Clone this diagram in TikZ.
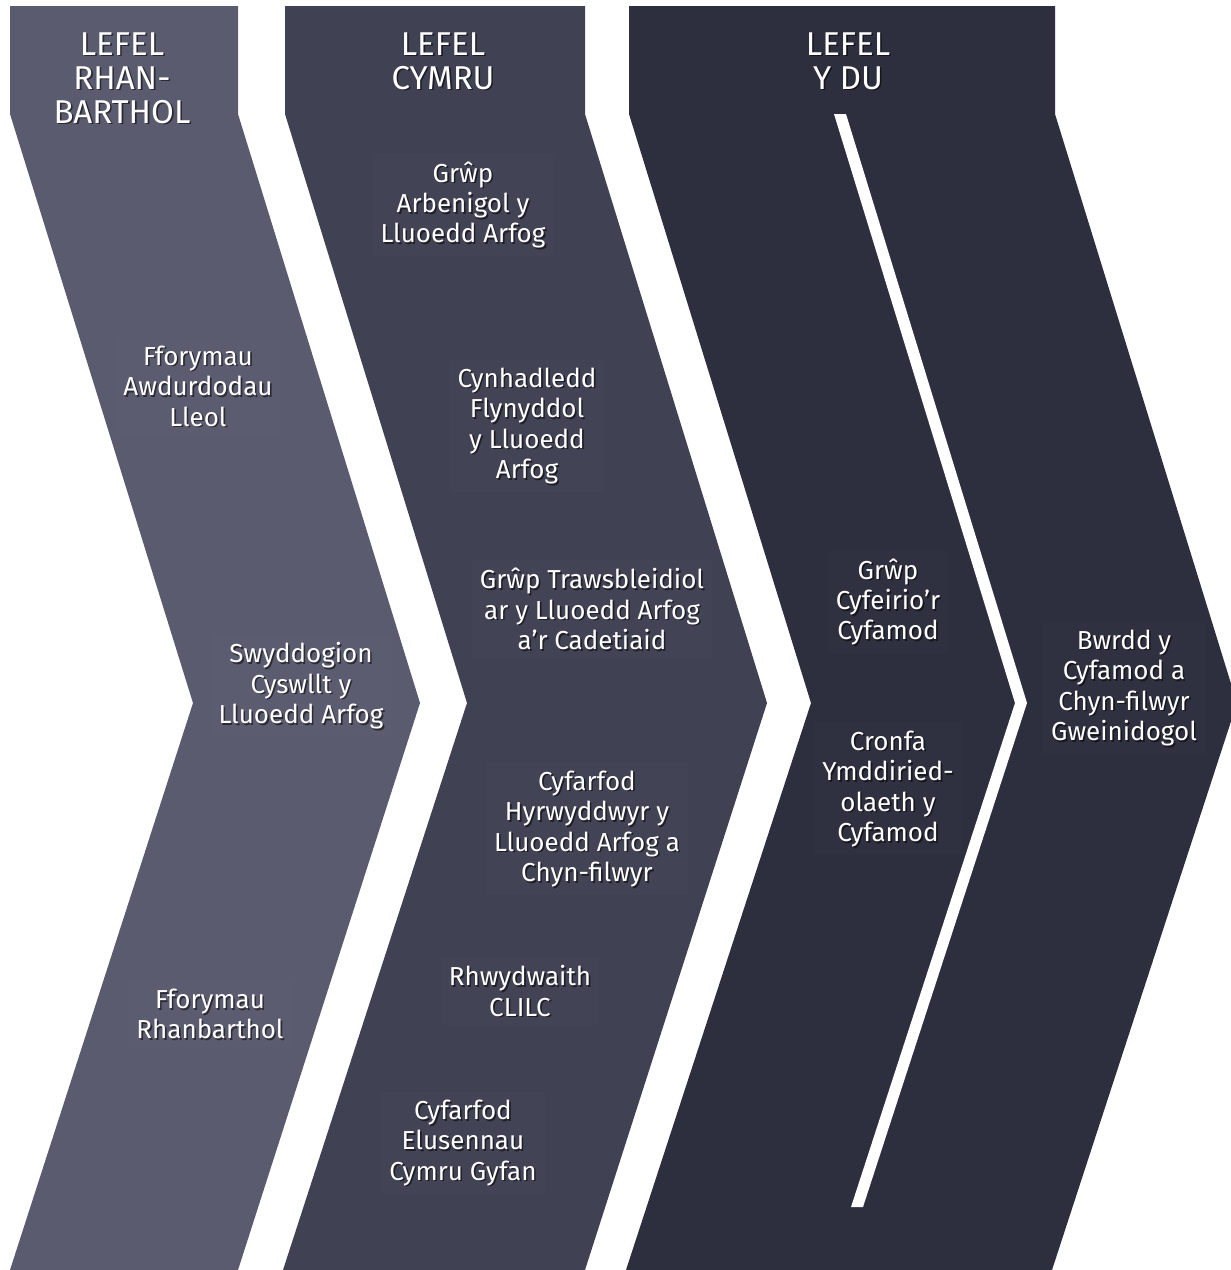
\documentclass[tikz,border=0pt]{standalone}
\usepackage{fontspec}
\setmainfont{Fira Sans}
\usepackage{xcolor}
\usepackage{tikz}
\usetikzlibrary{positioning}

\definecolor{levelone}{RGB}{90,91,110}
\definecolor{leveltwo}{RGB}{64,65,82}
\definecolor{levelthree}{RGB}{45,47,62}

\tikzset{
  txt/.style={align=center, text=white, fill=white, fill opacity=0.012, text opacity=1,
    inner sep=4pt, font=\fontsize{13pt}{15.2pt}\selectfont},
  txtshade/.style={align=center, text=black, text opacity=0.55, inner sep=4pt,
    font=\fontsize{13pt}{15.2pt}\selectfont},
  head/.style={txt, fill opacity=0, font=\fontsize{16.5pt}{17pt}\selectfont},
  headshade/.style={txtshade, font=\fontsize{16.5pt}{17pt}\selectfont}
}

% text with a small drop shadow
\newcommand{\shadedtext}[4]{%
  \node[#1shade, xshift=0.8pt, yshift=-0.8pt] at (#2) {#4};
  \node[#1] (#3) at (#2) {#4};}

\begin{document}
\begin{tikzpicture}[x=0.5pt,y=-0.5pt]
\clip (0,0) rectangle (1231,1270);
\fill[white] (0,0) rectangle (1231,1270);
% the three chevrons
\fill[levelone] (10,6) -- (238,6) -- (238,114) -- (420,703) -- (238,1270)
  -- (10,1270) -- (193,703) -- (10,114) -- cycle;
\fill[leveltwo] (285,6) -- (585,6) -- (585,114) -- (767,703) -- (585,1270)
  -- (283,1270) -- (467,703) -- (285,114) -- cycle;
\fill[levelthree] (629,6) -- (1055,6) -- (1055,114) -- (1237,703) -- (1052,1270)
  -- (626,1270) -- (811,703) -- (629,114) -- cycle;
% white divider inside the UK level
\fill[white] (834,114) -- (846,114) -- (1027,703) -- (863,1207)
  -- (851,1207) -- (1015,703) -- cycle;

% headers
\shadedtext{head}{122,78}{hregion}{LEFEL\\RHAN-\\BARTHOL}
\shadedtext{head}{443,61}{hwales}{LEFEL\\CYMRU}
\shadedtext{head}{848,61}{huk}{LEFEL\\Y DU}

% regional level
\shadedtext{txt}{198,386}{lafora}{Fforymau\\Awdurdodau\\Lleol}
\shadedtext{txt}{301,686}{liaison}{Swyddogion\\Cyswllt y\\Lluoedd Arfog}
\shadedtext{txt}{210,1014}{regfora}{Fforymau\\Rhanbarthol}

% Wales level
\shadedtext{txt}{463,205}{expert}{Grŵp\\Arbenigol y\\Lluoedd Arfog}
\shadedtext{txt}{527,426}{conf}{Cynhadledd\\Flynyddol\\y Lluoedd\\Arfog}
\shadedtext{txt}{592,609}{crossparty}{Grŵp Trawsbleidiol\\ar y Lluoedd Arfog\\a’r Cadetiaid}
\shadedtext{txt}{587,829}{champions}{Cyfarfod\\Hyrwyddwyr y\\Lluoedd Arfog a\\Chyn-filwyr}
\shadedtext{txt}{520,991}{network}{Rhwydwaith\\CLILC}
\shadedtext{txt}{463,1143}{charities}{Cyfarfod\\Elusennau\\Cymru Gyfan}

% UK level
\shadedtext{txt}{888,602}{reference}{Grŵp\\Cyfeirio’r\\Cyfamod}
\shadedtext{txt}{888,789}{trust}{Cronfa\\Ymddiried-\\olaeth y\\Cyfamod}
\shadedtext{txt}{1124,688}{board}{Bwrdd y\\Cyfamod a\\Chyn-filwyr\\Gweinidogol}
\end{tikzpicture}
\end{document}
